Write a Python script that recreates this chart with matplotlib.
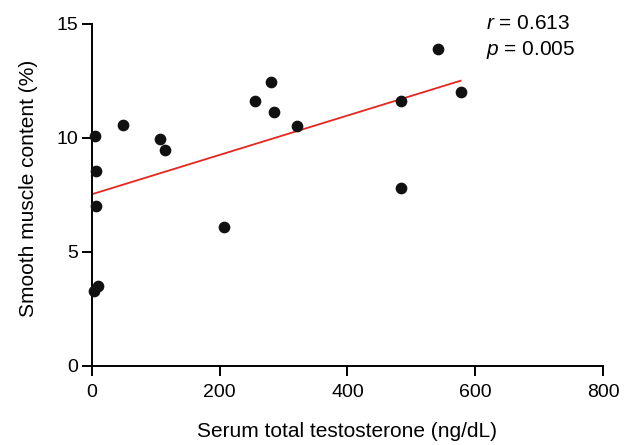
import matplotlib
matplotlib.use('Agg')
import matplotlib.pyplot as plt
import numpy as np

plt.rcParams['font.family'] = ['Liberation Sans', 'DejaVu Sans']
plt.rcParams['mathtext.fontset'] = 'custom'
plt.rcParams['mathtext.it'] = 'Liberation Sans:italic'
plt.rcParams['mathtext.rm'] = 'Liberation Sans'

# testosterone (ng/dL) vs smooth muscle content (%)
testo = [5, 7, 7, 3, 10, 49, 107, 115, 207, 256, 280, 285, 321, 484, 484, 541, 577]
smooth = [10.07, 8.55, 7.0, 3.28, 3.51, 10.56, 9.96, 9.47, 6.07, 11.61, 12.44, 11.11, 10.5,
          11.62, 7.79, 13.9, 12.0]

# fitted line as drawn
fit_x = [0, 577]
fit_y = [7.52, 12.5]

fig = plt.figure(figsize=(6.36, 4.45), dpi=100)
ax = fig.add_axes([0.1442, 0.178, 0.804, 0.7687])

ax.scatter(testo, smooth, s=55, color='#111111', zorder=3, clip_on=False)
ax.plot(fit_x, fit_y, color='#e8251f', lw=1.3, zorder=2)

ax.set_xlim(0, 800)
ax.set_ylim(0, 15)
ax.set_xticks([0, 200, 400, 600, 800])
ax.set_yticks([0, 5, 10, 15])

for s in ['top', 'right']:
    ax.spines[s].set_visible(False)
for s in ['left', 'bottom']:
    ax.spines[s].set_linewidth(1.4)
ax.tick_params(direction='out', length=7, width=1.4, labelsize=14)
ax.tick_params(axis='x', pad=6)
ax.tick_params(axis='y', pad=2.5)

ax.set_xlabel('Serum total testosterone (ng/dL)', fontsize=15, labelpad=15)
ax.set_ylabel('Smooth muscle content (%)', fontsize=15)
ax.yaxis.set_label_coords(-0.106, 0.52)

ax.text(0.772, 0.9836, r'$r$ = 0.613', transform=ax.transAxes, fontsize=15,
        va='baseline', ha='left')
ax.text(0.772, 0.9085, r'$p$ = 0.005', transform=ax.transAxes, fontsize=15,
        va='baseline', ha='left')

fig.savefig('out.png', dpi=100)
